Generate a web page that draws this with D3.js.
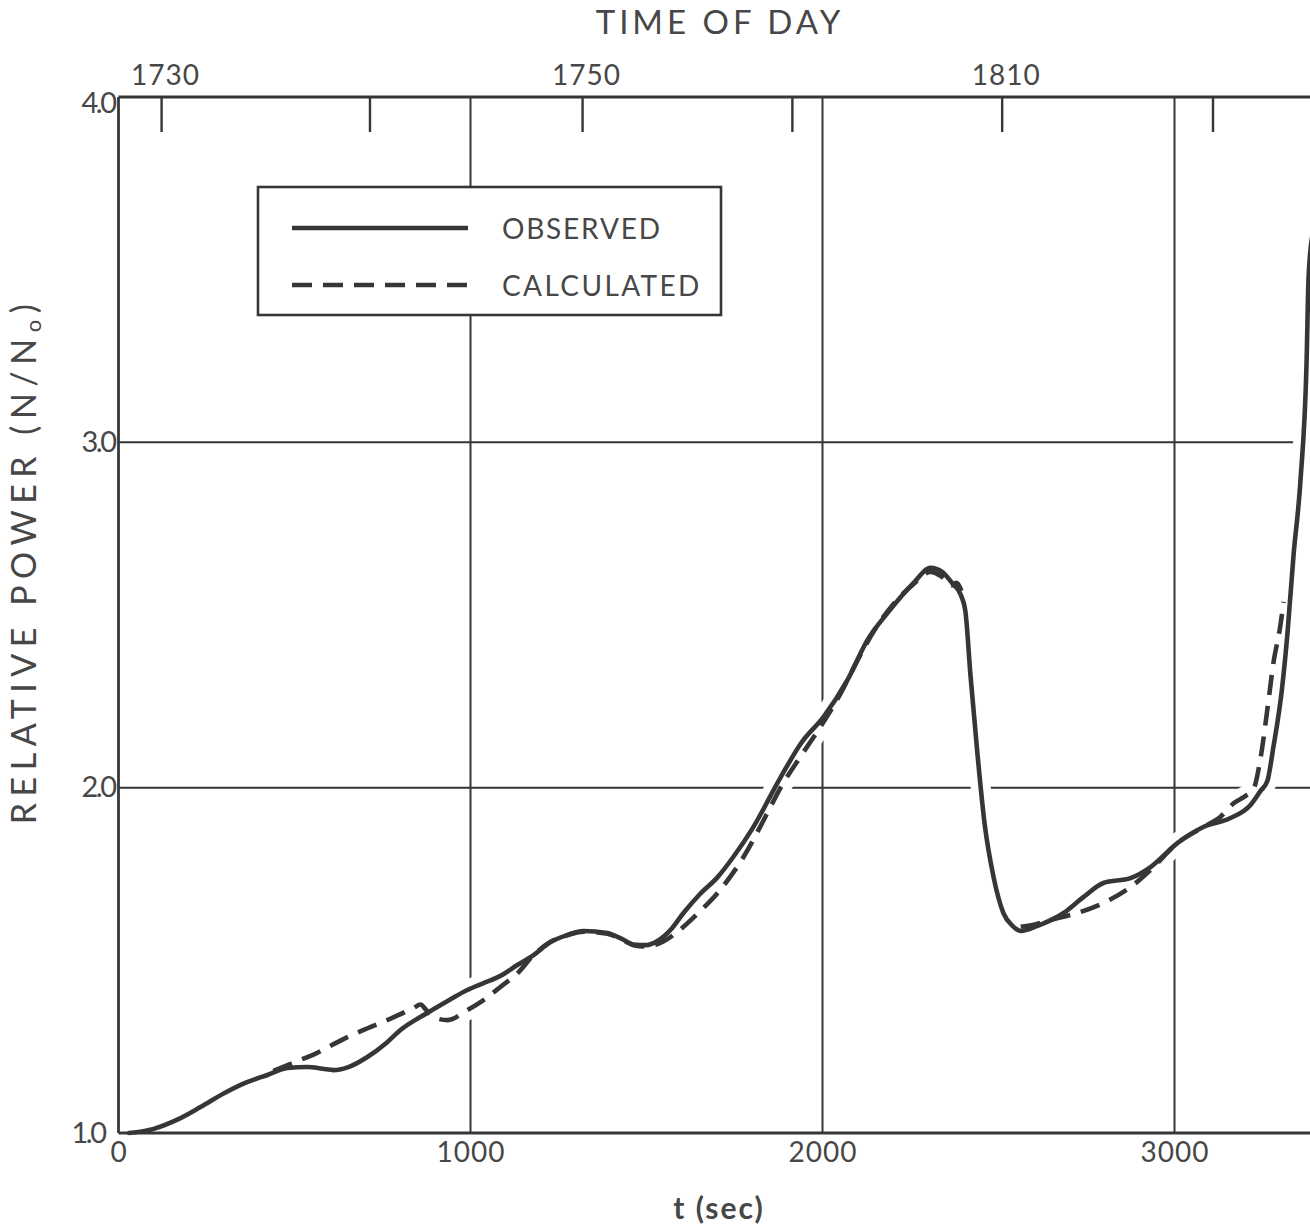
<!DOCTYPE html>
<html>
<head>
<meta charset="utf-8">
<script src="https://cdn.jsdelivr.net/npm/d3@7"></script>
<style>
  html, body { margin: 0; padding: 0; background: #ffffff; }
  svg { display: block; }
  text { font-family: Lato, "DejaVu Sans", sans-serif; fill: #474747; }
</style>
</head>
<body>
<svg id="chart" width="1310" height="1225"></svg>
<script>
// ---------------- DATA ----------------
// Observed relative power N/N0 vs time t (sec)
const obsT = [30, 100, 170, 233, 300, 360, 423, 480, 537, 580, 611, 651, 707, 760, 801, 878, 940, 991,
  1037, 1085, 1134, 1179, 1227, 1275, 1321, 1389, 1430, 1463, 1500, 1531, 1570, 1605, 1650, 1702, 1747,
  1800, 1881, 1940, 2003, 2071, 2128, 2185, 2259, 2307, 2340, 2370, 2392, 2406, 2420, 2440, 2460, 2486,
  2514, 2540, 2563, 2611, 2685, 2741, 2798, 2875, 2932, 3009, 3082, 3159, 3216, 3244, 3264, 3281, 3305,
  3321, 3338, 3358, 3375, 3381, 3392];
const obsV = [1.0, 1.012, 1.04, 1.075, 1.115, 1.145, 1.168, 1.188, 1.191, 1.186, 1.182, 1.19, 1.22, 1.26,
  1.298, 1.348, 1.385, 1.414, 1.434, 1.455, 1.487, 1.515, 1.553, 1.573, 1.585, 1.579, 1.562, 1.546, 1.544,
  1.556, 1.59, 1.637, 1.69, 1.741, 1.80, 1.88, 2.03, 2.13, 2.205, 2.312, 2.428, 2.506, 2.593, 2.637, 2.625,
  2.59, 2.56, 2.51, 2.33, 2.10, 1.90, 1.741, 1.637, 1.60, 1.585, 1.60, 1.637, 1.683, 1.724, 1.738, 1.77,
  1.84, 1.886, 1.912, 1.95, 1.99, 2.02, 2.118, 2.283, 2.448, 2.671, 2.891, 3.224, 3.48, 3.6];

// Calculated relative power, first visible part
const calcAT = [440, 500, 560, 639, 700, 770, 838, 858, 875, 895, 935, 991, 1037, 1085, 1134, 1179, 1227,
  1275, 1321, 1389, 1430, 1463, 1500, 1548, 1605, 1650, 1702, 1776, 1840, 1881, 1937, 1994, 2050, 2100,
  2150, 2200, 2259, 2307, 2340, 2365, 2380, 2395];
const calcAV = [1.18, 1.205, 1.23, 1.272, 1.30, 1.33, 1.362, 1.372, 1.355, 1.335, 1.327, 1.356, 1.385,
  1.423, 1.463, 1.515, 1.553, 1.573, 1.583, 1.577, 1.56, 1.544, 1.54, 1.555, 1.597, 1.64, 1.695, 1.80,
  1.92, 2.0, 2.089, 2.176, 2.27, 2.37, 2.46, 2.53, 2.59, 2.625, 2.61, 2.585, 2.593, 2.57];

// Calculated relative power, second visible part
const calcBT = [2563, 2600, 2648, 2724, 2798, 2875, 2932, 3009, 3082, 3130, 3168, 3200, 3224, 3244, 3264,
  3281, 3301, 3310];
const calcBV = [1.597, 1.603, 1.617, 1.637, 1.666, 1.712, 1.762, 1.84, 1.886, 1.915, 1.955, 1.975, 1.995,
  2.083, 2.228, 2.361, 2.471, 2.538];

// Axis ticks
const tTicks = [0, 1000, 2000, 3000];
const vTicks = [1.0, 2.0, 3.0, 4.0];
const gridT = [1000, 2000, 3000];
const gridV = [2.0, 3.0];
const clockTickT = [121, 713, 1317, 1913, 2509, 3108];
const clockLabels = ["1730", "", "1750", "", "1810", ""];

const legendLabels = ["OBSERVED", "CALCULATED"];

// ---------------- DRAWING ----------------
const ink = "#363636";
const svg = d3.select("#chart");
const W = 1310;

const x = d3.scaleLinear().domain([0, 3000]).range([118.5, 1174.5]);
const y = d3.scaleLinear().domain([1, 4]).range([1133, 97]);

const xRight = W + 2;

const pts = (ts, vs) => ts.map((t, i) => ({ t, v: vs[i] }));
const obs = pts(obsT, obsV);
const calcA = pts(calcAT, calcAV);
const calcB = pts(calcBT, calcBV);

const line = d3.line().x(d => x(d.t)).y(d => y(d.v)).curve(d3.curveMonotoneX);

// grid lines
const g = svg.append("g");
g.selectAll("line.gx").data(gridT).join("line")
  .attr("x1", d => x(d)).attr("x2", d => x(d))
  .attr("y1", y(4)).attr("y2", y(1))
  .attr("stroke", ink).attr("stroke-width", 2);
g.selectAll("line.gy").data(gridV).join("line")
  .attr("x1", x(0)).attr("x2", xRight)
  .attr("y1", d => y(d)).attr("y2", d => y(d))
  .attr("stroke", ink).attr("stroke-width", 2);

// white halos where the curves cross the grid
[obs, calcA, calcB].forEach(d => {
  svg.append("path").datum(d).attr("d", line)
    .attr("fill", "none").attr("stroke", "#ffffff").attr("stroke-width", 20)
    .attr("stroke-linecap", "round").attr("stroke-linejoin", "round");
});

// frame: left
svg.append("line").attr("x1", x(0)).attr("x2", x(0)).attr("y1", y(4)).attr("y2", y(1))
  .attr("stroke", ink).attr("stroke-width", 2.8);

// bottom axis
const bottomAxis = d3.axisBottom(x).tickValues(tTicks).tickFormat(d3.format("d")).tickSize(0).tickPadding(9);
const gb = svg.append("g").attr("transform", `translate(0,${y(1)})`).call(bottomAxis);
gb.select(".domain").remove();
gb.append("line").attr("x1", x(0)).attr("x2", xRight).attr("y1", 0).attr("y2", 0)
  .attr("stroke", ink).attr("stroke-width", 2.8);
gb.selectAll("text").attr("font-size", 28).attr("fill", "#474747")
  .attr("font-family", "Lato, sans-serif").attr("letter-spacing", 1);

// left axis
const leftAxis = d3.axisLeft(y).tickValues(vTicks).tickFormat(d3.format(".1f")).tickSize(0).tickPadding(4);
const gl = svg.append("g").attr("transform", `translate(${x(0)},0)`).call(leftAxis);
gl.select(".domain").remove();
gl.selectAll("text").attr("font-size", 29).attr("fill", "#474747")
  .attr("font-family", "Lato, sans-serif").attr("letter-spacing", -2.5);
gl.selectAll(".tick").filter(d => d === 1).select("text").attr("dx", -10);
gl.selectAll(".tick").filter(d => d === 4).select("text").attr("dy", "0.55em");

// top axis (time of day)
const topAxis = d3.axisTop(x).tickValues(clockTickT).tickFormat((d, i) => clockLabels[i])
  .tickSizeInner(-35).tickSizeOuter(0).tickPadding(12);
const gt = svg.append("g").attr("transform", `translate(0,${y(4)})`).call(topAxis);
gt.select(".domain").remove();
gt.append("line").attr("x1", x(0)).attr("x2", xRight).attr("y1", 0).attr("y2", 0)
  .attr("stroke", ink).attr("stroke-width", 2.8);
gt.selectAll(".tick line").attr("stroke", ink).attr("stroke-width", 2.4);
gt.selectAll("text").attr("font-size", 28).attr("fill", "#474747")
  .attr("font-family", "Lato, sans-serif").attr("letter-spacing", 1).attr("dx", 4);

// curves
svg.append("path").datum(obs).attr("d", line)
  .attr("fill", "none").attr("stroke", ink).attr("stroke-width", 4.6)
  .attr("stroke-linejoin", "round").attr("stroke-linecap", "round");
[calcA, calcB].forEach(d => {
  svg.append("path").datum(d).attr("d", line)
    .attr("fill", "none").attr("stroke", ink).attr("stroke-width", 4.6)
    .attr("stroke-dasharray", "20,11");
});

// legend
const lg = svg.append("g");
lg.append("rect").attr("x", 258).attr("y", 187).attr("width", 463).attr("height", 128)
  .attr("fill", "#ffffff").attr("stroke", ink).attr("stroke-width", 2.6);
lg.append("line").attr("x1", 292).attr("x2", 468).attr("y1", 228).attr("y2", 228)
  .attr("stroke", ink).attr("stroke-width", 4.6);
lg.append("line").attr("x1", 292).attr("x2", 468).attr("y1", 285).attr("y2", 285)
  .attr("stroke", ink).attr("stroke-width", 4.6).attr("stroke-dasharray", "20,11");
lg.selectAll("text").data(legendLabels).join("text")
  .attr("x", 502).attr("y", (d, i) => i === 0 ? 229 : 286)
  .attr("dy", "0.35em").attr("font-size", 28).attr("letter-spacing", (d, i) => i === 0 ? 1.8 : 2.4)
  .text(d => d);

// titles
svg.append("text").attr("x", 720).attr("y", 34).attr("text-anchor", "middle")
  .attr("font-size", 33).attr("letter-spacing", 4).text("TIME OF DAY");

svg.append("text").attr("x", 719).attr("y", 1219).attr("text-anchor", "middle")
  .attr("font-size", 30).attr("font-weight", "bold").attr("letter-spacing", 2).text("t (sec)");

const yl = svg.append("text").attr("transform", "translate(36,561) rotate(-90)")
  .attr("text-anchor", "middle").attr("font-size", 34).attr("letter-spacing", 6.5);
yl.append("tspan").text("RELATIVE POWER (N/N");
yl.append("tspan").attr("font-size", 22).attr("dy", 5).text("o");
yl.append("tspan").attr("dy", -5).text(")");
</script>
</body>
</html>
